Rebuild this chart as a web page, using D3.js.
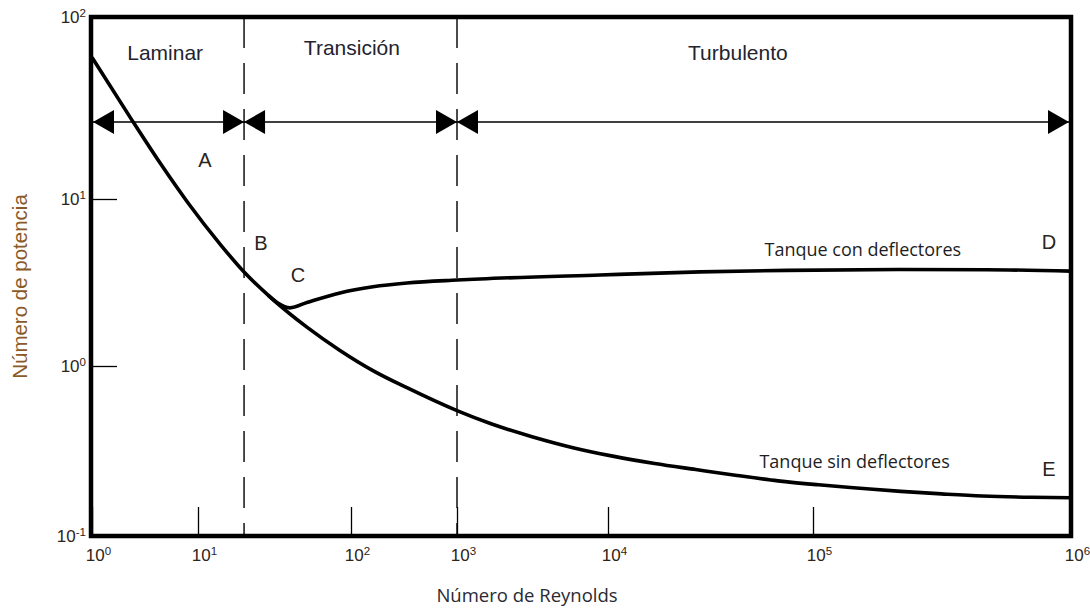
<!DOCTYPE html>
<html>
<head>
<meta charset="utf-8">
<script src="https://cdn.jsdelivr.net/npm/d3@7"></script>
<style>
  html, body { margin: 0; padding: 0; background: #fff; }
  svg { display: block; }
</style>
</head>
<body>
<svg id="chart" width="1090" height="609"></svg>
<script>
// Power number vs Reynolds number for stirred tanks (log-log)
const reDecades = [1, 10, 100, 1000, 1e4, 1e5, 1e6];
const npDecades = [0.1, 1, 10, 100];

// Unbaffled tank curve (A -> B -> E)
const reUnbaffled = [1, 2.3, 4.44, 8.03, 14.1, 20.3, 30.9, 51.5, 84.7, 161, 337, 1000, 1680, 3140, 5860,
  10700, 16900, 26800, 42600, 67500, 105000, 152000, 219000, 315000, 453000, 702000, 1000000];
const npUnbaffled = [60, 28.0, 15.6, 9.5, 5.3, 3.60, 2.50, 1.71, 1.24, 0.94, 0.745, 0.546, 0.457, 0.384, 0.331,
  0.294, 0.267, 0.246, 0.227, 0.211, 0.200, 0.191, 0.183, 0.177, 0.172, 0.169, 0.168];

// Baffled tank branch (C -> D)
const reBaffled = [28.7, 39.9, 51.5, 84.7, 161, 337, 1000, 1420, 8850, 28100, 74600, 217000, 470000, 1000000];
const npBaffled = [2.66, 2.23, 2.40, 2.74, 2.98, 3.14, 3.27, 3.32, 3.51, 3.66, 3.74, 3.78, 3.77, 3.70];

// Flow regimes and their Reynolds limits
const regimeNames = ["Laminar", "Transición", "Turbulento"];
const regimeLimits = [1, 20, 1000, 1e6];
const regimeLabelRe = [4.9, 102, 43000];

// Point letters along the curves
const pointNames = ["A", "B", "C", "D", "E"];
const pointRe = [11.1, 25.8, 45.1, 822000, 822000];
const pointNp = [16.4, 5.45, 3.51, 5.53, 0.247];

// Curve captions
const curveNames = ["Tanque con deflectores", "Tanque sin deflectores"];
const curveLabelRe = [156000, 145000];
const curveLabelNp = [4.95, 0.275];

const svg = d3.select("#chart");
const frameL = 91, frameR = 1071, frameT = 17, frameB = 536;

// Log scales with hand-spaced decades
const x = d3.scaleLog().domain(reDecades).range([92, 198, 351, 457, 608, 813, frameR]);
const y = d3.scaleLog().domain(npDecades).range([frameB, 366, 199, frameT]);

const sansFont = "'Liberation Sans', Arial, sans-serif";
const labelFont = "'Open Sans', Lato, sans-serif";

function powerOfTen(sel) {
  sel.each(function (d) {
    const t = d3.select(this);
    const e = Math.round(Math.log10(d));
    t.text(null);
    t.append("tspan").text("10");
    t.append("tspan").attr("dy", "-0.55em").attr("font-size", "0.68em").text(e);
  });
}

// Bottom axis: inward ticks
const xAxis = svg.append("g")
  .attr("transform", `translate(0,${frameB})`)
  .call(d3.axisBottom(x).tickValues(reDecades).tickSizeInner(-29).tickSizeOuter(0).tickPadding(13));
xAxis.select(".domain").remove();
xAxis.selectAll(".tick line").attr("stroke", "#000").attr("stroke-width", 1.3);
xAxis.selectAll(".tick text")
  .attr("font-family", sansFont).attr("font-size", 17).attr("fill", "#2e2418")
  .attr("dx", 6)
  .call(powerOfTen);

// Left axis: inward ticks
const yAxis = svg.append("g")
  .attr("transform", `translate(${frameL},0)`)
  .call(d3.axisLeft(y).tickValues(npDecades).tickSizeInner(-26).tickSizeOuter(0).tickPadding(5));
yAxis.select(".domain").remove();
yAxis.selectAll(".tick line").attr("stroke", "#000").attr("stroke-width", 1.3);
yAxis.selectAll(".tick text")
  .attr("font-family", sansFont).attr("font-size", 17).attr("fill", "#2e2418")
  .call(powerOfTen);

// Regime boundaries (dashed)
svg.append("g").selectAll("line")
  .data(regimeLimits.slice(1, -1))
  .join("line")
  .attr("x1", d => x(d)).attr("x2", d => x(d))
  .attr("y1", frameT).attr("y2", frameB)
  .attr("stroke", "#000").attr("stroke-width", 1.4)
  .attr("stroke-dasharray", "31,15");

// Regime span arrows
const arrowY = 122, headLen = 21, headHalf = 12;
const arrows = svg.append("g");
arrows.append("line")
  .attr("x1", x(regimeLimits[0])).attr("x2", x(regimeLimits[3]) - 2)
  .attr("y1", arrowY).attr("y2", arrowY)
  .attr("stroke", "#000").attr("stroke-width", 1.4);
const spans = d3.pairs(regimeLimits);
spans.forEach(([a, b], i) => {
  const xa = x(a) + (i === 0 ? 1 : 0);
  const xb = x(b) - (i === spans.length - 1 ? 2 : 0);
  arrows.append("path")
    .attr("d", `M${xa},${arrowY}L${xa + headLen},${arrowY - headHalf}L${xa + headLen},${arrowY + headHalf}Z`)
    .attr("fill", "#000");
  arrows.append("path")
    .attr("d", `M${xb},${arrowY}L${xb - headLen},${arrowY - headHalf}L${xb - headLen},${arrowY + headHalf}Z`)
    .attr("fill", "#000");
});

// Regime names
svg.append("g").selectAll("text")
  .data(regimeNames)
  .join("text")
  .attr("x", (d, i) => x(regimeLabelRe[i]))
  .attr("y", (d, i) => i === 1 ? 55 : 60)
  .attr("text-anchor", "middle")
  .attr("font-family", sansFont).attr("font-size", 21).attr("fill", "#23232e")
  .text(d => d);

// Curves
const line = d3.line().x(d => x(d[0])).y(d => y(d[1])).curve(d3.curveMonotoneX);
svg.append("path")
  .datum(d3.zip(reUnbaffled, npUnbaffled))
  .attr("d", line)
  .attr("fill", "none").attr("stroke", "#000").attr("stroke-width", 3.6)
  .attr("stroke-linejoin", "round");
svg.append("path")
  .datum(d3.zip(reBaffled, npBaffled))
  .attr("d", line)
  .attr("fill", "none").attr("stroke", "#000").attr("stroke-width", 3.6)
  .attr("stroke-linejoin", "round");

// Point letters
svg.append("g").selectAll("text")
  .data(pointNames)
  .join("text")
  .attr("x", (d, i) => x(pointRe[i]))
  .attr("y", (d, i) => y(pointNp[i]))
  .attr("dy", "0.36em")
  .attr("text-anchor", "middle")
  .attr("font-family", sansFont).attr("font-size", 20).attr("fill", "#2a2420")
  .text(d => d);

// Curve captions
svg.append("g").selectAll("text")
  .data(curveNames)
  .join("text")
  .attr("x", (d, i) => x(curveLabelRe[i]))
  .attr("y", (d, i) => y(curveLabelNp[i]))
  .attr("dy", "0.35em")
  .attr("text-anchor", "middle")
  .attr("font-family", labelFont).attr("font-size", 18).attr("fill", "#1e1e24")
  .text(d => d);

// Frame
svg.append("rect")
  .attr("x", frameL).attr("y", frameT)
  .attr("width", frameR - frameL).attr("height", frameB - frameT)
  .attr("fill", "none").attr("stroke", "#000").attr("stroke-width", 4.5);

// Axis titles
svg.append("text")
  .attr("x", (frameL + frameR) / 2 - 54).attr("y", 602)
  .attr("text-anchor", "middle")
  .attr("font-family", labelFont).attr("font-size", 18.5).attr("fill", "#2a2a33")
  .text("Número de Reynolds");
svg.append("text")
  .attr("transform", `translate(27,${(frameT + frameB) / 2 + 10}) rotate(-90)`)
  .attr("text-anchor", "middle")
  .attr("font-family", sansFont).attr("font-size", 20.5).attr("fill", "#8a5a28")
  .text("Número de potencia");
</script>
</body>
</html>
